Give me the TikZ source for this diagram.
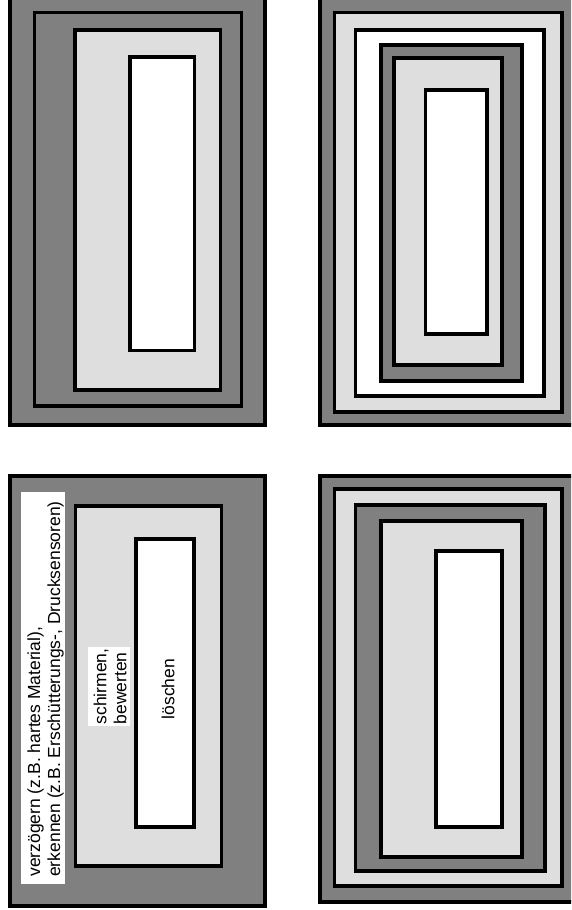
\documentclass[tikz,border=0pt]{standalone}
\usepackage{fontspec}
\setmainfont{Liberation Sans}
\definecolor{dk}{HTML}{808080}
\definecolor{lt}{HTML}{DEDEDE}
\begin{document}
\begin{tikzpicture}[x=1pt,y=-1pt,
  ring/.style={draw=black, line width=3.6pt},
  dkbox/.style={ring, fill=dk},
  ltbox/.style={ring, fill=lt},
  whbox/.style={ring, fill=white},
  lbl/.style={font=\fontsize{17.5}{20}\selectfont, rotate=90, inner sep=0pt, align=left}]
\useasboundingbox (0,0) rectangle (571,910);
\begin{scope}
\clip (0,0) rectangle (571,910);
% top left
\draw[dkbox] (10,-10) rectangle (265,425);
\draw[dkbox] (34.5,12.5) rectangle (241.5,406);
\draw[ltbox] (75,30) rectangle (220.5,390);
\draw[whbox] (130,57) rectangle (194.5,350.5);
% top right
\draw[dkbox] (320,-10) rectangle (590,425);
\draw[ltbox] (334.5,12.5) rectangle (562,412);
\draw[whbox] (355.5,30) rectangle (544,396);
\draw[dkbox] (381,45) rectangle (522,381);
\draw[ltbox] (394,58) rectangle (502,365);
\draw[whbox] (425.5,90) rectangle (487,334);
% bottom left
\draw[dkbox] (10,476) rectangle (265,906);
\draw[ltbox] (75.3,506) rectangle (221.5,866);
\draw[whbox] (136,539) rectangle (194,827);
\fill[white] (21,492) rectangle (65,884);
\fill[white] (88,647) rectangle (130,726);
\node[lbl] (t1) at (45.5,689) {verzögern (z.B. hartes Material),\\erkennen (z.B. Erschütterungs-, Drucksensoren)};
\node[lbl] (t2) at (110,686.5) {schirmen,\\bewerten};
\node[lbl] (t3) at (168,689) {löschen};
% bottom right
\draw[dkbox] (320,476) rectangle (590,902);
\draw[ltbox] (334.5,489) rectangle (562,886);
\draw[dkbox] (355.5,505) rectangle (545,871);
\draw[ltbox] (381,521) rectangle (522,857);
\draw[whbox] (436,551) rectangle (502,827);
\end{scope}
\end{tikzpicture}
\end{document}
